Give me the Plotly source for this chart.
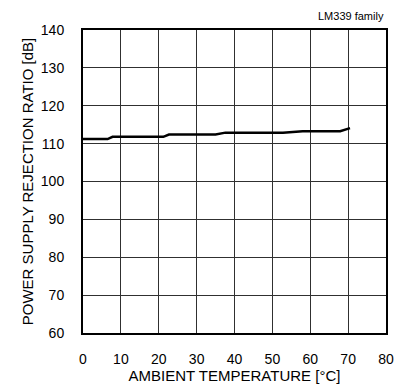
import plotly.graph_objects as go

# Curve (ambient temperature vs PSRR)
temperature = [0, 6.5, 7.8, 21.2, 22.7, 35.0, 37.6, 52.8, 58.0, 67.9, 70.5]
psrr = [111.2, 111.2, 111.8, 111.8, 112.4, 112.4, 112.9, 112.9, 113.3, 113.3, 114.1]

x_ticks = [0, 10, 20, 30, 40, 50, 60, 70, 80]
y_ticks = [60, 70, 80, 90, 100, 110, 120, 130, 140]

font = "Liberation Sans, Arial, sans-serif"

fig = go.Figure()

fig.add_trace(go.Scatter(
    x=temperature, y=psrr,
    mode="lines",
    line=dict(color="black", width=2.5),
    showlegend=False
))

fig.update_xaxes(
    range=[0, 80], tickvals=x_ticks,
    showgrid=True, gridcolor="#303030", gridwidth=1,
    showline=True, linecolor="black", linewidth=2, mirror=True,
    zeroline=False, ticks="", ticklabelstandoff=12,
    title=dict(text="AMBIENT TEMPERATURE [°C]", standoff=0,
               font=dict(size=15, color="black")),
    tickfont=dict(size=14, color="black")
)

fig.update_yaxes(
    range=[60, 140], tickvals=y_ticks,
    showgrid=True, gridcolor="#303030", gridwidth=1,
    showline=True, linecolor="black", linewidth=2, mirror=True,
    zeroline=False, ticks="", ticklabelstandoff=14,
    title=dict(text="POWER SUPPLY REJECTION RATIO [dB]", standoff=4,
               font=dict(size=15, color="black")),
    tickfont=dict(size=14, color="black")
)

fig.add_annotation(
    text="LM339 family", xref="paper", yref="paper",
    x=1.0, y=1.0, xanchor="right", yanchor="bottom", yshift=6,
    showarrow=False, font=dict(size=11, color="black", family=font)
)

fig.update_layout(
    width=406, height=389,
    margin=dict(l=83, r=14, t=30, b=53),
    plot_bgcolor="white", paper_bgcolor="white",
    font=dict(family=font, color="black")
)

# remove the default page margin so the figure sits at the window's corner
fig.write_html("out.html", config={"displayModeBar": False},
               post_script="document.body.style.margin='0';")
